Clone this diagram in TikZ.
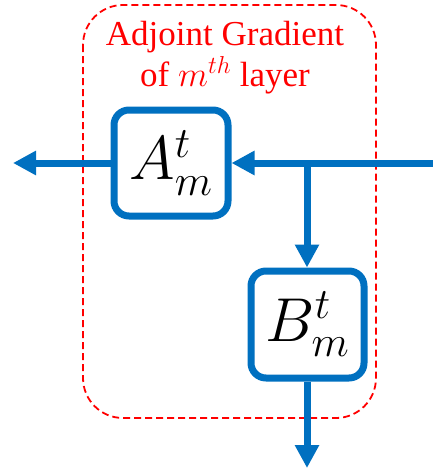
\RequirePackage{fix-cm}
\documentclass[tikz,border=0pt]{standalone}
\usepackage{fontspec}
\setmainfont{Liberation Serif}
\usetikzlibrary{arrows.meta}
\definecolor{mblue}{HTML}{0070C0}
\definecolor{mred}{HTML}{FF0000}
\tikzset{
  blk/.style={draw=mblue, line width=7pt, rounded corners=15pt, fill=white, inner sep=0pt, text=black},
  flow/.style={draw=mblue, line width=7pt, -{Triangle[length=23pt,width=23pt]}},
  region/.style={draw=mred, line width=1.8pt, dash pattern=on 7pt off 4pt, rounded corners=40pt},
  lbl/.style={text=mred, anchor=base, font=\fontsize{35}{40}\selectfont, inner sep=0pt}
}
\begin{document}
\begin{tikzpicture}[x=1pt,y=-1pt]
\useasboundingbox (0,0) rectangle (433,469);
\draw[region] (83,5) rectangle (376,418);
\node[lbl] (t1) at (225,45) {Adjoint Gradient};
\node[lbl] (t2) at (225,86) {of $m^{th}$ layer};
\node[blk, minimum width=114pt, minimum height=106pt] (A) at (171,163) {\fontsize{62}{62}\selectfont$A^t_m$};
\node[blk, minimum width=113pt, minimum height=107pt] (B) at (307.5,324.5) {\fontsize{62}{62}\selectfont$B^t_m$};
\coordinate (in) at (433,163);
\coordinate (out) at (13,163);
\coordinate (j) at (307,163);
\coordinate (bout) at (307,468);
\draw[flow] (in) -- (A.east);
\draw[flow] (A.west) -- (out);
\draw[flow] (j) -- (j |- B.north);
\draw[flow] (B.south -| bout) -- (bout);
\end{tikzpicture}
\end{document}
